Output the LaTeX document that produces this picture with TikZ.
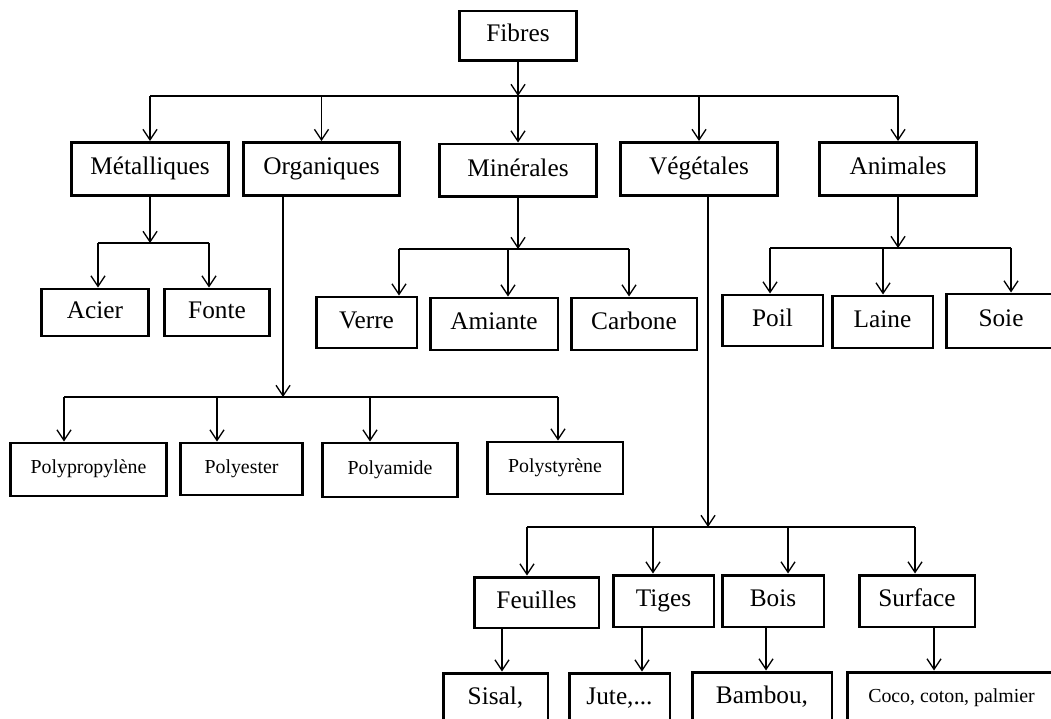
\documentclass[tikz,border=0pt]{standalone}
\usepackage{fontspec}
\setmainfont{Liberation Serif}
\usetikzlibrary{arrows.meta}

\begin{document}
\begin{tikzpicture}[
  x=0.02cm, y=-0.02cm,
  >={Straight Barb[length=6pt,width=8pt]},
  edge/.style={->, line width=0.75pt},
  bus/.style={line width=0.75pt},
  box/.style={draw, line width=1.7pt, inner sep=0pt, text height=10pt, text depth=3.5pt,
    font=\fontsize{14.4}{17}\selectfont},
  sbox/.style={box, text height=8pt, text depth=3pt, font=\fontsize{11.3}{13}\selectfont}
]
  \useasboundingbox (0,0) rectangle (1051,719);
  \clip (0,0) rectangle (1051,719);

  % nodes
  \node[box, minimum width=2.34cm, minimum height=1cm] (fib) at (518,36) {Fibres};

  \node[box, minimum width=3.14cm, minimum height=1.06cm] (met) at (150,169) {Métalliques};
  \node[box, minimum width=3.14cm, minimum height=1.06cm] (org) at (321.5,169) {Organiques};
  \node[box, minimum width=3.14cm, minimum height=1.06cm] (min) at (518,170.5) {Minérales};
  \node[box, minimum width=3.14cm, minimum height=1.06cm] (veg) at (699,169) {Végétales};
  \node[box, minimum width=3.14cm, minimum height=1.06cm] (ani) at (898,169) {Animales};

  \node[box, minimum width=2.16cm, minimum height=0.94cm] (aci) at (95,312.5) {Acier};
  \node[box, minimum width=2.09cm, minimum height=0.94cm] (fon) at (217,312.5) {Fonte};

  \node[box, minimum width=2.02cm, minimum height=1.02cm] (ver) at (366.5,322.5) {Verre};
  \node[box, minimum width=2.56cm, minimum height=1.04cm] (ami) at (494,324) {Amiante};
  \node[box, minimum width=2.52cm, minimum height=1.04cm] (car) at (634,324) {Carbone};

  \node[box, minimum width=2.02cm, minimum height=1.02cm] (poi) at (772.5,320.5) {Poil};
  \node[box, minimum width=2.02cm, minimum height=1.04cm] (lai) at (882.5,322) {Laine};
  \node[box, minimum width=2.2cm, minimum height=1.08cm] (soi) at (1001,321) {Soie};

  \node[sbox, minimum width=3.14cm, minimum height=1.06cm] (ppr) at (88.5,469.5) {Polypropylène};
  \node[sbox, minimum width=2.46cm, minimum height=1.04cm] (pes) at (241.5,469) {Polyester};
  \node[sbox, minimum width=2.72cm, minimum height=1.08cm] (pam) at (390,470) {Polyamide};
  \node[sbox, minimum width=2.72cm, minimum height=1.04cm] (pst) at (555,468) {Polystyrène};

  \node[box, minimum width=2.5cm, minimum height=1.02cm] (feu) at (536.5,602.5) {Feuilles};
  \node[box, minimum width=2.02cm, minimum height=1.04cm] (tig) at (663.5,601) {Tiges};
  \node[box, minimum width=2.04cm, minimum height=1.04cm] (boi) at (773,601) {Bois};
  \node[box, minimum width=2.32cm, minimum height=1.04cm] (sur) at (917,601) {Surface};

  \node[box, minimum width=2.1cm, minimum height=1.04cm] (sis) at (495.5,699) {Sisal,};
  \node[box, minimum width=2.02cm, minimum height=1.04cm] (jut) at (619.5,699) {Jute,...};
  \node[box, minimum width=2.8cm, minimum height=1.04cm] (bam) at (762,698) {Bambou,};
  \node[sbox, minimum width=4.18cm, minimum height=1.04cm] (coc) at (951.5,698) {Coco, coton, palmier};

  % edges: Fibres
  \coordinate (f0) at (518,96);
  \draw[edge] (fib) -- (f0);
  \draw[bus] (met.north |- f0) -- (ani.north |- f0);
  \foreach \n in {met, org, min, veg, ani}
    \draw[edge] (\n.north |- f0) -- (\n);

  % edges: Metalliques
  \coordinate (m0) at (150,243);
  \coordinate (m1) at (98,243);
  \coordinate (m2) at (209,243);
  \draw[edge] (met) -- (m0);
  \draw[bus] (m1) -- (m2);
  \foreach \c/\n in {m1/aci, m2/fon}
    \draw[edge] (\c) -- (\c |- \n.north);

  % edges: Organiques
  \coordinate (o0) at (283,397);
  \coordinate (o1) at (64,397);
  \coordinate (o2) at (217,397);
  \coordinate (o3) at (370,397);
  \coordinate (o4) at (558,397);
  \draw[edge] (org.south -| o0) -- (o0);
  \draw[bus] (o1) -- (o4);
  \foreach \c/\n in {o1/ppr, o2/pes, o3/pam, o4/pst}
    \draw[edge] (\c) -- (\c |- \n.north);

  % edges: Minerales
  \coordinate (n0) at (518,249);
  \coordinate (n1) at (399,249);
  \coordinate (n2) at (508,249);
  \coordinate (n3) at (629,249);
  \draw[edge] (min) -- (n0);
  \draw[bus] (n1) -- (n3);
  \foreach \c/\n in {n1/ver, n2/ami, n3/car}
    \draw[edge] (\c) -- (\c |- \n.north);

  % edges: Animales
  \coordinate (a0) at (898,248);
  \coordinate (a1) at (770,248);
  \coordinate (a2) at (883,248);
  \coordinate (a3) at (1011,248);
  \draw[edge] (ani) -- (a0);
  \draw[bus] (a1) -- (a3);
  \foreach \c/\n in {a1/poi, a2/lai, a3/soi}
    \draw[edge] (\c) -- (\c |- \n.north);

  % edges: Vegetales
  \coordinate (v0) at (708,527);
  \coordinate (v1) at (527,527);
  \coordinate (v2) at (653,527);
  \coordinate (v3) at (788,527);
  \coordinate (v4) at (915,527);
  \draw[edge] (veg.south -| v0) -- (v0);
  \draw[bus] (v1) -- (v4);
  \foreach \c/\n in {v1/feu, v2/tig, v3/boi, v4/sur}
    \draw[edge] (\c) -- (\c |- \n.north);

  % edges: examples
  \foreach \a/\b/\x in {feu/sis/502, tig/jut/642, boi/bam/766, sur/coc/934}
    \draw[edge] (\x,0 |- \a.south) -- (\x,0 |- \b.north);
\end{tikzpicture}
\end{document}
